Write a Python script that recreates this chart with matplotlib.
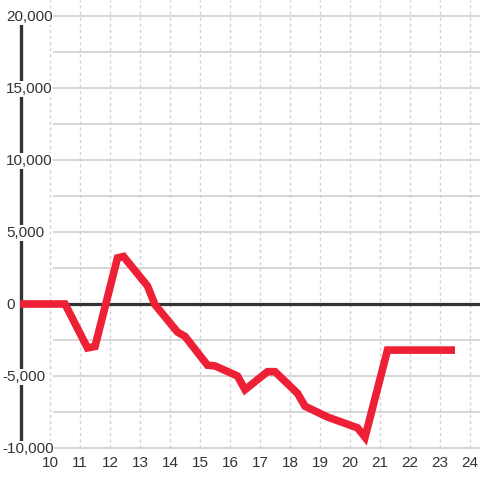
import numpy as np
import matplotlib
matplotlib.use("Agg")
import matplotlib.pyplot as plt

# hours of the day and running value
hours = [9.0, 10.5, 11.25, 11.5, 12.25, 12.45, 13.25, 13.5, 14.25, 14.5,
         15.25, 15.5, 16.25, 16.5, 17.25, 17.5, 18.25, 18.5, 19.25, 20.25,
         20.5, 21.25, 23.5]
values = [0, 0, -3050, -2950, 3200, 3300, 1250, -50, -1950, -2250,
          -4250, -4300, -5000, -5950, -4700, -4700, -6200, -7100, -7850, -8600,
          -9250, -3200, -3200]

x_ticks = list(range(10, 25))
y_grid = list(range(-10000, 20001, 2500))
y_labels = [-10000, -5000, 0, 5000, 10000, 15000, 20000]

plt.rcParams['font.family'] = ['Liberation Sans', 'DejaVu Sans']

fig = plt.figure(figsize=(4.8, 4.8), dpi=100)
ax = fig.add_axes([0, 0, 1, 1])

# 30 px per hour, 14.4 px per 1000
px_x = 1 / 30
px_y = 1000 / 14.4
ax.set_xlim(10 - 50 * px_x, 10 + 430 * px_x)
ax.set_ylim(-176 * px_y, 304 * px_y)
ax.axis('off')

grid_col = '#cccccc'
dark = '#333333'

# vertical dotted grid
ax.vlines(x_ticks, -10000, 304 * px_y, colors='#d2d2d2', linewidth=1,
          linestyles=(0, (2.2, 2.2)), zorder=1)
# horizontal grid
x_start = 10 + 3 * px_x
for y in y_grid:
    if y == 0:
        continue
    ax.hlines(y, x_start, 25, colors=grid_col, linewidth=1.1, zorder=1)
ax.hlines(0, x_start, 25, colors=dark, linewidth=2.3, zorder=2)

# left axis bar
ax.vlines(10 - 29.3 * px_x, -10000, 20000, colors=dark, linewidth=2.4, zorder=2)

# data line
ax.plot(hours, values, color='#ee2035', linewidth=5.5, solid_joinstyle='miter',
        solid_capstyle='butt', zorder=3)

# y labels
for v in y_labels:
    xoff = 2 if v < 0 else 6
    ax.text(10 - (50 - xoff) * px_x, v - 1 * px_y, f"{v:,}", ha='left', va='center',
            fontsize=11, color=dark, zorder=4,
            bbox=dict(boxstyle='square,pad=0.05', fc='white', ec='none'))

# x labels
for h in x_ticks:
    ax.text(h, -159 * px_y, str(h), ha='center', va='center',
            fontsize=11, color=dark, zorder=4)

fig.savefig('out.png', dpi=100, facecolor='white')
